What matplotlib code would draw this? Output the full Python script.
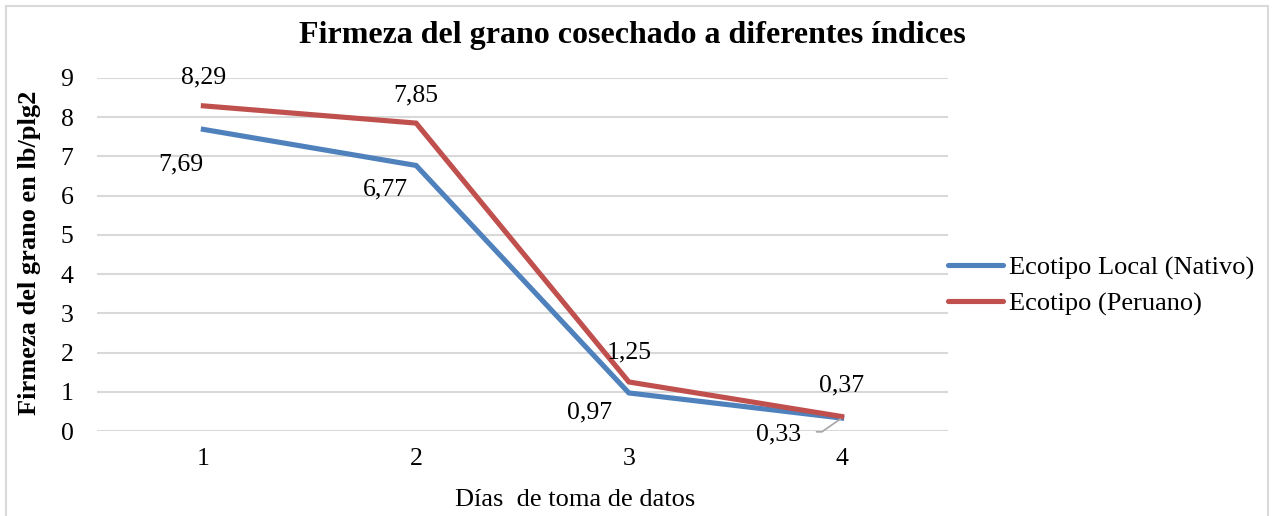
import matplotlib
matplotlib.use('Agg')
import matplotlib.pyplot as plt
from matplotlib.patches import Rectangle

plt.rcParams['font.family'] = ['Liberation Serif', 'DejaVu Serif']

## Data
dias = [1, 2, 3, 4]
local_nativo = [7.69, 6.77, 0.97, 0.33]
peruano = [8.29, 7.85, 1.25, 0.37]
series_names = ['Ecotipo Local (Nativo)', 'Ecotipo (Peruano)']

# label offsets in pixels (dx, dy of digit centre) for each point
local_offsets = [(-23, -32), (-31, -21), (-39, -16), (-63, -13)]
peruano_offsets = [(0, 31), (0, 31), (0, 33), (0, 34)]

blue = '#4F81BD'
red = '#C0504D'
W, H = 1272, 516

fig = plt.figure(figsize=(W / 100, H / 100), dpi=100)
ax = fig.add_axes([97 / W, (H - 431) / H, 851 / W, 353 / H])

x = list(range(len(dias)))
ax.plot(x, local_nativo, color=blue, lw=3.7, solid_joinstyle='miter', label=series_names[0], zorder=3)
ax.plot(x, peruano, color=red, lw=3.7, solid_joinstyle='miter', label=series_names[1], zorder=3)

lab_fs = 18.5
half_digit = 9  # baseline sits this many pixels under the digit centre


def fmt(v):
    return f'{v:.2f}'.replace('.', ',')


# data labels
for i, (v, (dx, dy)) in enumerate(zip(peruano, peruano_offsets)):
    ax.annotate(fmt(v), (i, v), xytext=(dx, dy - half_digit), textcoords='offset pixels',
                ha='center', va='baseline', fontsize=lab_fs)
for i, (v, (dx, dy)) in enumerate(zip(local_nativo, local_offsets)):
    if i == 3:
        # last label has a leader line back to the point
        ax.annotate(fmt(v), (i, v), xytext=(dx, dy - half_digit), textcoords='offset pixels',
                    ha='center', va='baseline', fontsize=lab_fs,
                    arrowprops=dict(arrowstyle='-', color='#A6A6A6', lw=1.2, relpos=(1, 0.6),
                                    shrinkA=9, shrinkB=1,
                                    connectionstyle='angle,angleA=0,angleB=35,rad=0'))
    else:
        ax.annotate(fmt(v), (i, v), xytext=(dx, dy - half_digit), textcoords='offset pixels',
                    ha='center', va='baseline', fontsize=lab_fs)

ax.set_xlim(-0.5, len(dias) - 0.5)
ax.set_ylim(0, 9)
ax.set_yticks(range(0, 10))
ax.set_xticks(x)
ax.set_xticklabels([str(d) for d in dias])
ax.tick_params(axis='both', length=0, labelsize=lab_fs, colors='black')
ax.tick_params(axis='y', pad=17)
ax.tick_params(axis='x', pad=12)
ax.grid(axis='y', color='#D9D9D9', lw=1.5)
ax.set_axisbelow(True)
for s in ax.spines.values():
    s.set_visible(False)

fig.text(575 / W, (H - 506) / H, 'Días  de toma de datos', ha='center', va='baseline', fontsize=19)
fig.text(30 / W, (H - 253) / H, 'Firmeza del grano en lb/plg2', ha='center', va='center',
         rotation=90, fontsize=19, fontweight='bold')
fig.text(632 / W, (H - 43) / H, 'Firmeza del grano cosechado a diferentes índices', ha='center',
         va='baseline', fontsize=23, fontweight='bold')

leg = fig.legend(loc='center left', bbox_to_anchor=(948 / W, (H - 286) / H), frameon=False, fontsize=19,
                 handlelength=2.1, handletextpad=0.2, labelspacing=0.45, borderaxespad=0, borderpad=0)
for line in leg.get_lines():
    line.set_linewidth(3.7)
    line.set_solid_capstyle('round')

fig.patches.append(Rectangle((6 / W, -0.01), (W - 10) / W, 1 - 6 / H + 0.01, transform=fig.transFigure,
                             fill=False, edgecolor='#D9D9D9', lw=1.5))

fig.savefig('out.png', dpi=100)
